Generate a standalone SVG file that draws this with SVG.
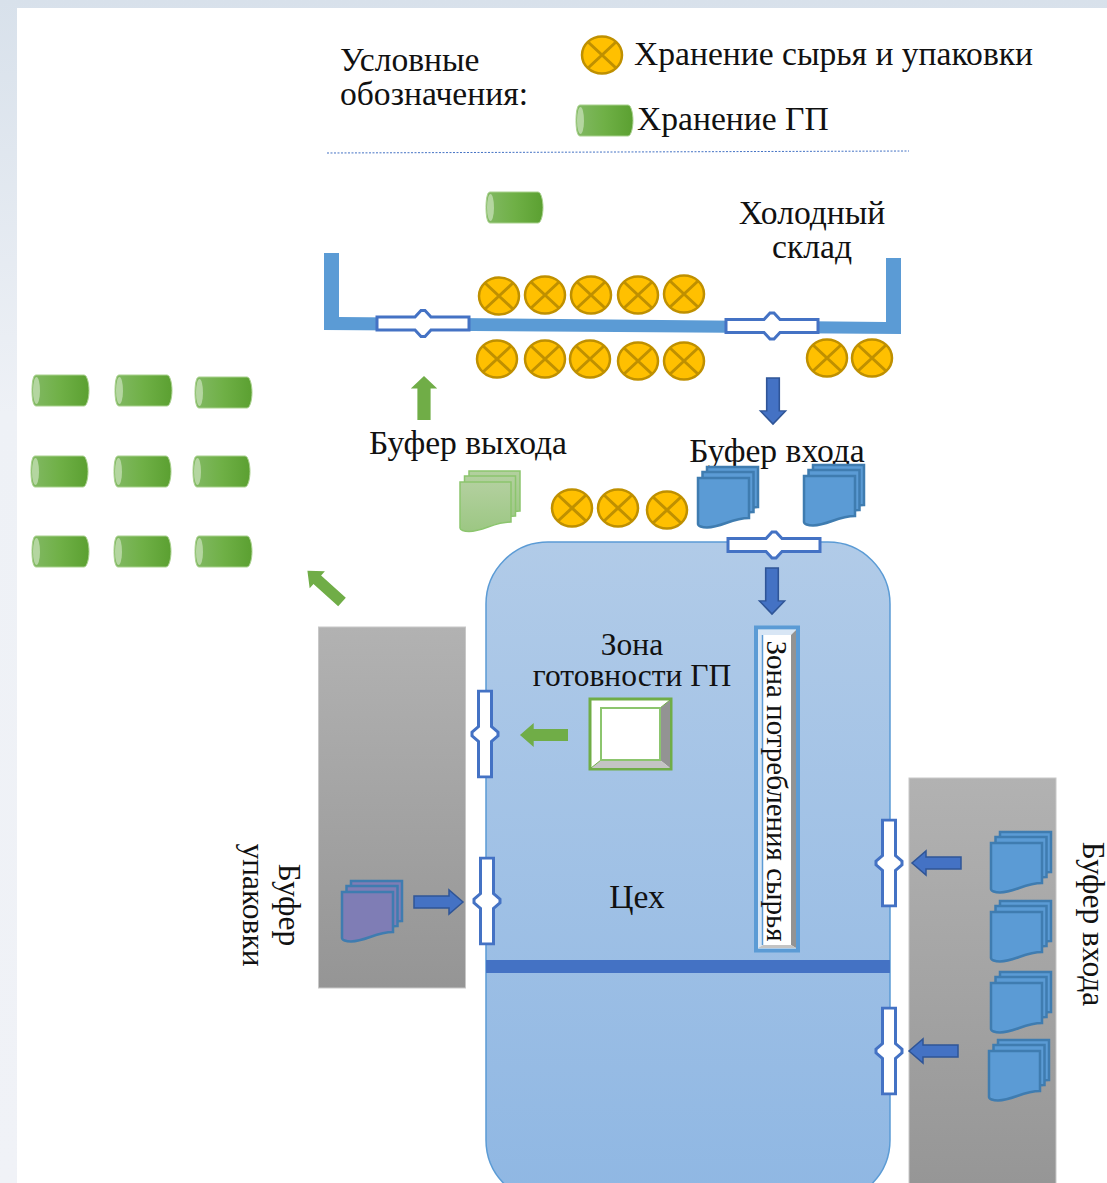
<svg xmlns="http://www.w3.org/2000/svg" xmlns:xlink="http://www.w3.org/1999/xlink" width="1107" height="1183" viewBox="0 0 1107 1183">
<style>
text{font-family:"Liberation Serif","Times New Roman",serif;font-size:33.600px;fill:#111}
.s31{font-size:31.500px}
.s29{font-size:29px}
.m{text-anchor:middle}
.docB{stroke:#3f7cb0;stroke-width:2.5;fill:#5b9bd5}
.gate{fill:#fff;stroke:#4472c4;stroke-width:3}
.blue{fill:#4472c4;stroke:#2f5597;stroke-width:1.5}
.green{fill:#70ad47;stroke:none}
</style>
<defs>
<linearGradient id="bg" x1="0" y1="0" x2="0" y2="1"><stop offset="0" stop-color="#d8e1eb"/><stop offset=".35" stop-color="#eef1f6"/><stop offset="1" stop-color="#f0f2f7"/></linearGradient>
<linearGradient id="cyl" x1="0" y1="0" x2="1" y2="0"><stop offset="0" stop-color="#82b964"/><stop offset=".5" stop-color="#6fb046"/><stop offset="1" stop-color="#5ba031"/></linearGradient>
<linearGradient id="gray" x1="0" y1="0" x2="0" y2="1"><stop offset="0" stop-color="#b2b2b2"/><stop offset="1" stop-color="#959595"/></linearGradient>
<linearGradient id="shop" x1="0" y1="0" x2="0" y2="1"><stop offset="0" stop-color="#b1cbe8"/><stop offset="1" stop-color="#8fb7e3"/></linearGradient>
<linearGradient id="gdoc" x1="0" y1="0" x2="0" y2="1"><stop offset="0" stop-color="#b3d09f"/><stop offset="1" stop-color="#9cc783"/></linearGradient>
<g id="x">
<ellipse rx="20" ry="18.500" fill="#ffc000" stroke="#bf9000" stroke-width="2.500"/>
<path d="M-14 -13L14 13M14 -13L-14 13" fill="none" stroke="#bf9000" stroke-width="3"/>
</g>
<g id="cylinder">
<path d="M4 0H52C55 0 57 8 57 15.500S55 31 52 31H4C1 31 0 23 0 15.500S1 0 4 0Z" fill="url(#cyl)" stroke="#a9d18e" stroke-width="1"/>
<ellipse cx="4.500" cy="15.500" rx="3.500" ry="13.500" fill="#b4d6a0"/>
</g>
<path id="doc" d="M0 0H51V40C34 40 24 49 9 49.500C4 49.500 0 48 0 46Z"/>
<g id="stack">
<use xlink:href="#doc" x="9" y="-11"/>
<use xlink:href="#doc" x="4.500" y="-6"/>
<use xlink:href="#doc"/>
</g>
<g id="gateH">
<path class="gate" d="M-46 -6.500H-8L-2 -13H2L8 -6.500H46V6.500H8L2 13H-2L-8 6.500H-46Z"/>
<path d="M-7 0H7M0 -9V9" stroke="#fff" stroke-width="3" fill="none"/>
</g>
<path id="arrow" d="M0 -6H35V-12L49 0L35 12V6H0Z"/>
</defs>
<rect id="background" width="1107" height="1183" fill="url(#bg)"/>
<rect id="page" x="17" y="8" width="1090" height="1175" fill="#fff"/>

<g id="legend">
<text x="340" y="71">Условные</text>
<text x="340" y="105">обозначения:</text>
<use xlink:href="#x" x="602" y="55"/>
<text x="634" y="65">Хранение сырья и упаковки</text>
<use xlink:href="#cylinder" x="576" y="105"/>
<text x="637" y="130">Хранение ГП</text>
<path d="M327 153L909 151" fill="none" stroke="#4472c4" stroke-width="1" stroke-dasharray="2 1.500"/>
</g>

<g id="cold-store">
<path d="M324 253H339V317L886 322V258H901V334L324 330Z" fill="#5b9bd5"/>
<text class="m" x="812" y="224">Холодный</text>
<text class="m" x="812" y="258">склад</text>
<use xlink:href="#cylinder" x="486" y="192"/>
</g>

<g id="cold-store-raw">
<use xlink:href="#x" x="499" y="296"/><use xlink:href="#x" x="545" y="295"/><use xlink:href="#x" x="591" y="295"/><use xlink:href="#x" x="638" y="295"/><use xlink:href="#x" x="684" y="294"/>
<use xlink:href="#x" x="497" y="359"/><use xlink:href="#x" x="545" y="359"/><use xlink:href="#x" x="590" y="359"/><use xlink:href="#x" x="638" y="361"/><use xlink:href="#x" x="684" y="361"/>
<use xlink:href="#x" x="827" y="358"/><use xlink:href="#x" x="872" y="358"/>
</g>

<g id="finished-goods">
<use xlink:href="#cylinder" x="32" y="375"/><use xlink:href="#cylinder" x="115" y="375"/><use xlink:href="#cylinder" x="195" y="377"/>
<use xlink:href="#cylinder" x="31" y="456"/><use xlink:href="#cylinder" x="114" y="456"/><use xlink:href="#cylinder" x="193" y="456"/>
<use xlink:href="#cylinder" x="32" y="536"/><use xlink:href="#cylinder" x="114" y="536"/><use xlink:href="#cylinder" x="195" y="536"/>
</g>

<g id="output-buffer">
<text x="369" y="454">Буфер выхода</text>
<use xlink:href="#stack" x="460" y="482" fill="url(#gdoc)" stroke="#8cc56e" stroke-width="1.500"/>
</g>

<g id="dock-raw">
<use xlink:href="#x" x="572" y="508"/><use xlink:href="#x" x="618" y="508"/><use xlink:href="#x" x="667" y="510"/>
</g>

<g id="workshop">
<rect x="486" y="542" width="404" height="660" rx="62" fill="url(#shop)" stroke="#5b9bd5" stroke-width="1.500"/>
<rect x="486" y="960" width="404" height="13" fill="#4472c4"/>
<text class="m" x="637" y="908">Цех</text>
</g>

<g id="input-buffer-top">
<text class="m" x="777" y="462">Буфер входа</text>
<use xlink:href="#stack" x="698" y="478" class="docB"/>
<use xlink:href="#stack" x="804" y="476" class="docB"/>
</g>

<g id="packaging-buffer">
<rect x="318.500" y="627" width="147" height="361" fill="url(#gray)" stroke="#c8c8c8"/>
<use xlink:href="#stack" x="342" y="892" fill="#7f7db5" stroke="#3f7cb0" stroke-width="2.500"/>
<text class="m s31" transform="translate(279 905) rotate(90)">Буфер</text>
<text class="m s31" transform="translate(243 905) rotate(90)">упаковки</text>
</g>

<g id="input-buffer-right">
<rect x="909" y="778" width="147" height="420" fill="url(#gray)" stroke="#c8c8c8"/>
<use xlink:href="#stack" x="991" y="843" class="docB"/>
<use xlink:href="#stack" x="991" y="912" class="docB"/>
<use xlink:href="#stack" x="991" y="983" class="docB"/>
<use xlink:href="#stack" x="989" y="1051" class="docB"/>
<text class="m s31" transform="translate(1083 924) rotate(90)">Буфер входа</text>
</g>

<g id="fg-ready-zone">
<text class="m s31" x="632" y="655">Зона</text>
<text class="m s31" x="632" y="686">готовности ГП</text>
<rect x="590" y="699" width="81" height="70" fill="#fff" stroke="#70ad47" stroke-width="3"/>
<path d="M660 708L670 700V768L660 760Z" fill="#939393"/>
<path d="M601 760H660L670 768H591Z" fill="#c4c4c4"/>
<path d="M591 700H670L660 708H601V760L591 768Z" fill="#fff" stroke="#70ad47" stroke-width="1"/>
<rect x="601" y="708" width="59" height="52" fill="#fff" stroke="#8cc56e" stroke-width="2"/>
</g>

<g id="raw-consumption-zone">
<rect x="756" y="627.500" width="42" height="323" fill="#fff" stroke="#5b9bd5" stroke-width="4"/>
<path d="M758 630H796L791 635H763V945L758 948Z" fill="#d8e6f5"/>
<path d="M796 630V948L791 945V635Z" fill="#939393"/>
<path d="M758 948H796L791 945H763Z" fill="#c4c4c4"/>
<path d="M762.500 635V945" stroke="#5b9bd5" stroke-width="1.500" fill="none"/>
<text class="m s29" transform="translate(767 791) rotate(90)">Зона потребления сырья</text>
</g>

<g id="gates">
<use xlink:href="#gateH" x="423" y="323.500"/>
<use xlink:href="#gateH" x="772" y="326"/>
<use xlink:href="#gateH" x="774" y="545"/>
<use xlink:href="#gateH" transform="translate(485 734) rotate(90) scale(.93 1)"/>
<use xlink:href="#gateH" transform="translate(487 901) rotate(90) scale(.93 1)"/>
<use xlink:href="#gateH" transform="translate(889 863) rotate(90) scale(.93 1)"/>
<use xlink:href="#gateH" transform="translate(889 1051) rotate(90) scale(.93 1)"/>
</g>

<g id="connectors">
<use xlink:href="#arrow" class="green" transform="translate(424 420) rotate(-90) scale(.9 1.100)"/>
<use xlink:href="#arrow" class="blue" transform="translate(773 378) rotate(90) scale(.94 1.050)"/>
<use xlink:href="#arrow" class="blue" transform="translate(772 568) rotate(90) scale(.94 1.050)"/>
<use xlink:href="#arrow" class="green" transform="translate(568 735) rotate(180) scale(.98 1)"/>
<use xlink:href="#arrow" class="blue" transform="translate(414 902)"/>
<use xlink:href="#arrow" class="blue" transform="translate(961 863) rotate(180)"/>
<use xlink:href="#arrow" class="blue" transform="translate(958 1051) rotate(180)"/>
<use xlink:href="#arrow" class="green" transform="translate(342 602) rotate(-138) scale(.95 .95)"/>
</g>
</svg>
